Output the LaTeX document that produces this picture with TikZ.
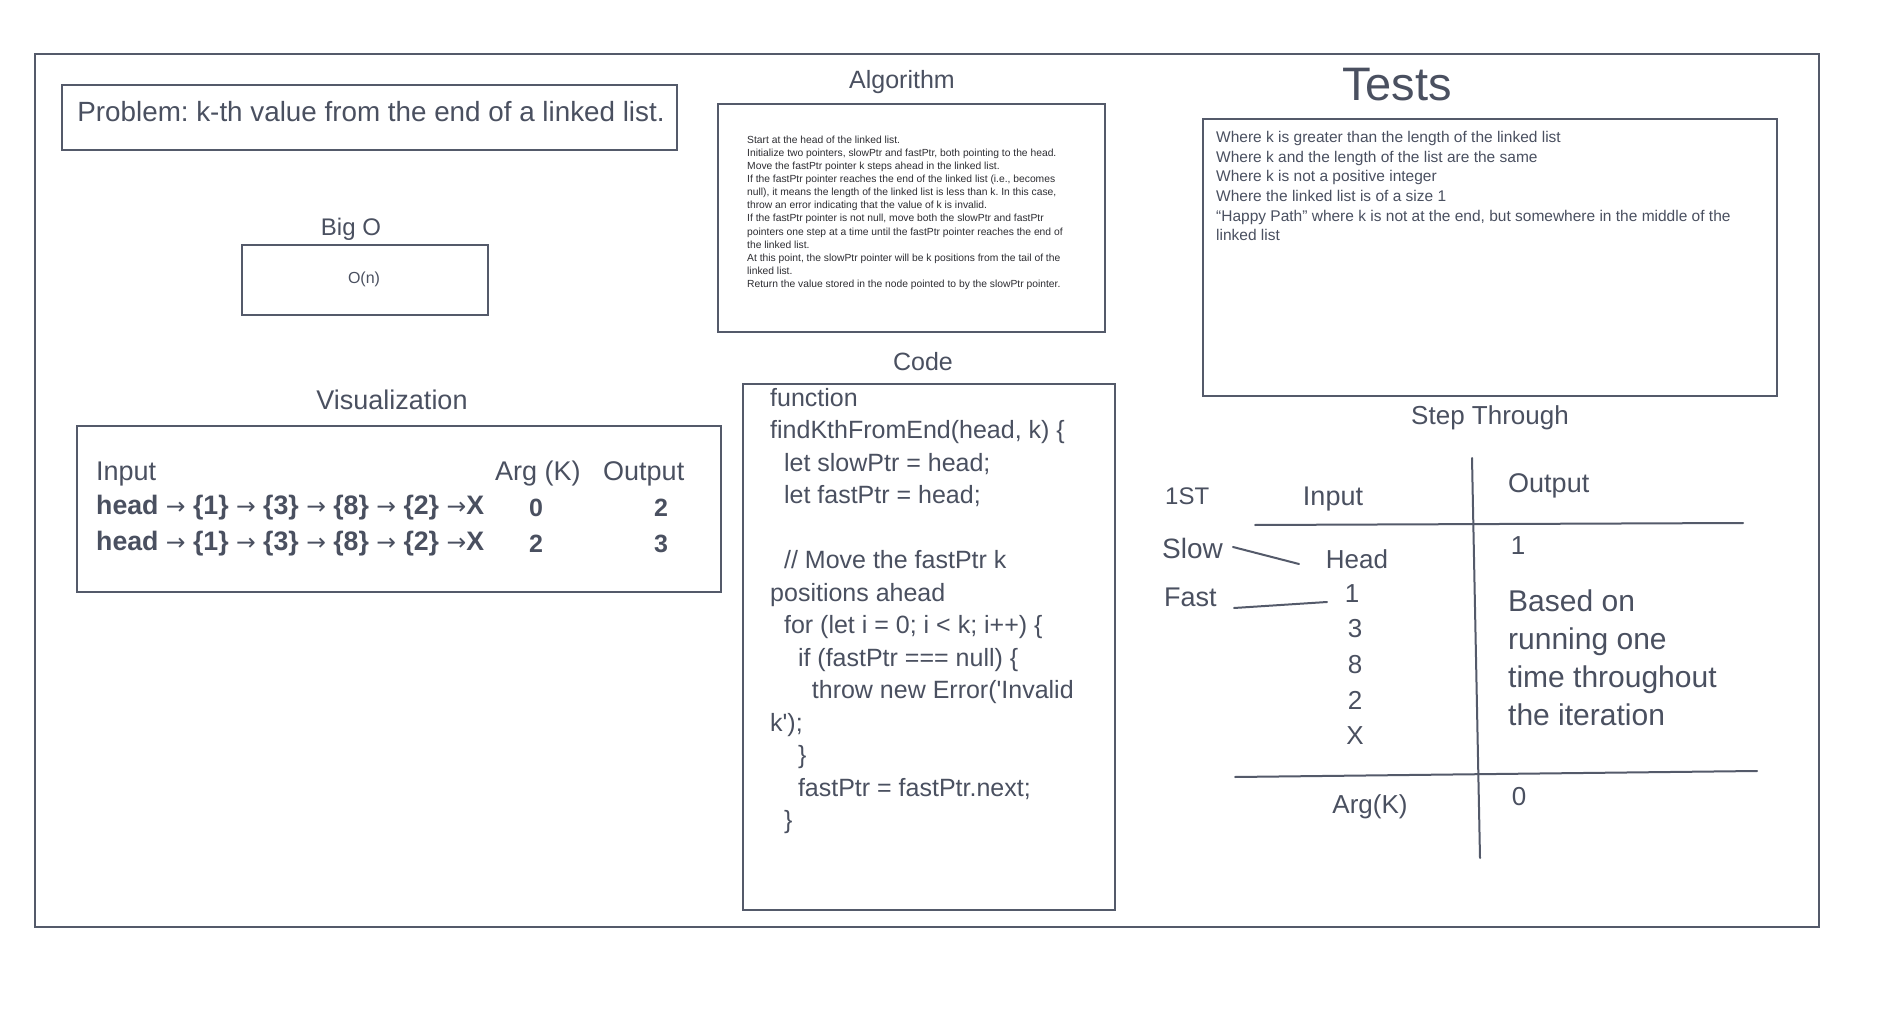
\documentclass[tikz,border=0pt]{standalone}
\usepackage{fontspec}
\setmainfont{Liberation Sans}
\newfontfamily\arrowfont{DejaVu Sans}
\definecolor{textc}{RGB}{74,80,96}
\definecolor{linec}{RGB}{84,90,106}
\definecolor{algc}{RGB}{45,45,50}
\newcommand\fsz[1]{\fontsize{#1}{#1}\selectfont}
\newcommand\arr{{\arrowfont\mdseries\fsz{23.5}→}}
\frenchspacing
\begin{document}
\begin{tikzpicture}[x=1pt,y=-1pt,
  box/.style={draw=linec,line width=2pt,inner sep=0},
  rule/.style={draw=linec,line width=2pt,line cap=round},
  t/.style={inner sep=0,text=textc},
  tl/.style={inner sep=0,text=textc,anchor=base west}]
\useasboundingbox (0,0) rectangle (1880,1016);
\fill[white] (0,0) rectangle (1880,1016);
% outer frame
\node[box,minimum width=1784pt,minimum height=873pt] (frame) at (927,490.5) {};
% problem
\node[box,minimum width=615pt,minimum height=65pt] (prob) at (369.5,117.5) {};
\node[t,font=\fsz{27.8}] (probt) at (371,111.5) {Problem: k-th value from the end of a linked list.};
% Big O
\node[t,font=\fsz{24}] (bigol) at (351,229) {Big O};
\node[box,minimum width=246pt,minimum height=70pt] (bigo) at (365,280) {};
\node[t,font=\fsz{16}] (bigot) at (364,279) {O(n)};
% Visualization
\node[t,font=\fsz{27}] (visl) at (392,400) {Visualization};
\node[box,minimum width=644pt,minimum height=166pt] (vis) at (399,509) {};
\node[t,font=\fsz{27},anchor=west] (vin) at (96,474) {Input};
\node[t,font=\fsz{27},anchor=west] (varg) at (495,474) {Arg (K)};
\node[t,font=\fsz{27},anchor=west] (vout) at (603,474) {Output};
\node[t,font=\bfseries\fsz{26.7},anchor=west] (vr1) at (96,508) {head \arr{} \{1\} \arr{} \{3\} \arr{} \{8\} \arr{} \{2\} \arr X};
\node[t,font=\bfseries\fsz{26.7},anchor=west] (vr2) at (96,544) {head \arr{} \{1\} \arr{} \{3\} \arr{} \{8\} \arr{} \{2\} \arr X};
\node[t,font=\bfseries\fsz{25}] (va1) at (536,508) {0};
\node[t,font=\bfseries\fsz{25}] (vo1) at (661,508) {2};
\node[t,font=\bfseries\fsz{25}] (va2) at (536,544) {2};
\node[t,font=\bfseries\fsz{25}] (vo2) at (661,544) {3};
% Algorithm
\node[t,font=\fsz{25}] (algl) at (902,82.5) {Algorithm};
\node[box,minimum width=387pt,minimum height=228pt] (alg) at (911.5,218) {};
\foreach \txt [count=\i] in {
 {Start at the head of the linked list.},
 {Initialize two pointers, slowPtr and fastPtr, both pointing to the head.},
 {Move the fastPtr pointer k steps ahead in the linked list.},
 {If the fastPtr pointer reaches the end of the linked list (i.e., becomes},
 {null), it means the length of the linked list is less than k. In this case,},
 {throw an error indicating that the value of k is invalid.},
 {If the fastPtr pointer is not null, move both the slowPtr and fastPtr},
 {pointers one step at a time until the fastPtr pointer reaches the end of},
 {the linked list.},
 {At this point, the slowPtr pointer will be k positions from the tail of the},
 {linked list.},
 {Return the value stored in the node pointed to by the slowPtr pointer.}}
 \node[tl,text=algc,font=\fsz{10.3}] (alg\i) at (747,143.5+13.08*\i-13.08) {\txt};
% Tests
\node[t,font=\fsz{47}] (testl) at (1397,85) {Tests};
\node[box,minimum width=574pt,minimum height=277pt] (tests) at (1490,257.5) {};
\foreach \txt [count=\i] in {
 {Where k is greater than the length of the linked list},
 {Where k and the length of the list are the same},
 {Where k is not a positive integer},
 {Where the linked list is of a size 1},
 {“Happy Path” where k is not at the end, but somewhere in the middle of the},
 {linked list}}
 \node[tl,font=\fsz{15.5}] (test\i) at (1216,142.5+19.7*\i-19.7) {\txt};
% Code
\node[t,font=\fsz{25}] (codel) at (923,362) {Code};
\node[box,minimum width=372pt,minimum height=526pt] (code) at (929,647) {};
\foreach \ind/\txt [count=\i] in {
 0/{function},
 0/{findKthFromEnd(head, k) \{},
 2/{let slowPtr = head;},
 2/{let fastPtr = head;},
 0/{},
 2/{// Move the fastPtr k},
 0/{positions ahead},
 2/{for (let i = 0; i < k; i++) \{},
 4/{if (fastPtr === null) \{},
 6/{throw new Error(\textquotesingle Invalid},
 0/{k\textquotesingle);},
 4/{\}},
 4/{fastPtr = fastPtr.next;},
 2/{\}}}
 \node[tl,font=\fsz{25}] (code\i) at (770+6.95*\ind,406+32.5*\i-32.5) {\txt};
% Step Through
\node[t,font=\fsz{26}] (stepl) at (1490,418) {Step Through};
\coordinate (vt) at (1472,458);
\coordinate (vb) at (1480,858);
\coordinate (h1a) at (1255,525);
\coordinate (h1b) at (1743,523);
\coordinate (h2a) at (1235,777);
\coordinate (h2b) at (1757,771);
\draw[rule] (vt) -- (vb);
\draw[rule] (h1a) -- (h1b);
\draw[rule] (h2a) -- (h2b);
\node[t,font=\fsz{24},anchor=west] (st1) at (1165,496) {1ST};
\node[t,font=\fsz{27}] (sin) at (1333,499) {Input};
\node[t,font=\fsz{27},anchor=west] (sout) at (1508,486) {Output};
\node[t,font=\fsz{28},anchor=west] (slow) at (1162,548) {Slow};
\node[t,font=\fsz{27},anchor=west] (fast) at (1164,597) {Fast};
\node[t,font=\fsz{26}] (shead) at (1357,559) {Head};
\node[t,font=\fsz{26}] (s1) at (1352,594) {1};
\node[t,font=\fsz{26}] (s3) at (1355,629) {3};
\node[t,font=\fsz{26}] (s8) at (1355,665) {8};
\node[t,font=\fsz{26}] (s2) at (1355,700) {2};
\node[t,font=\fsz{26}] (sx) at (1355,736) {X};
\coordinate (slowa) at (1233,547);
\coordinate (slowb) at (1299,564);
\coordinate (fasta) at (1234,608);
\coordinate (fastb) at (1327,602);
\draw[rule] (slowa) -- (slowb);
\draw[rule] (fasta) -- (fastb);
\node[t,font=\fsz{26}] (so1) at (1518,546) {1};
\foreach \txt [count=\i] in {{Based on},{running one},{time throughout},{the iteration}}
 \node[tl,font=\fsz{30}] (based\i) at (1508,611.5+38*\i-38) {\txt};
\node[t,font=\fsz{26}] (sarg) at (1370,807) {Arg(K)};
\node[t,font=\fsz{26}] (s0) at (1519,797) {0};
\end{tikzpicture}
\end{document}
